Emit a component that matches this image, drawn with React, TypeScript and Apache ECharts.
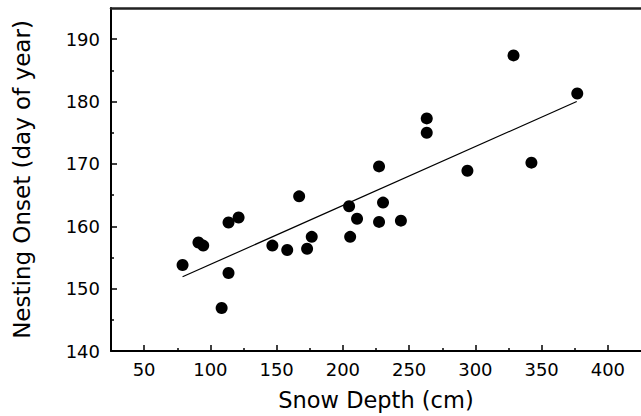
import React, { useEffect, useRef } from "react";
import * as echarts from "echarts";

const snowDepth = [79, 91, 94.6, 108.5, 113.7, 113.7, 121.3, 146.8, 158, 167, 173, 176.5, 204.7, 210.7, 205.5, 230.3, 227.3, 243.8, 227.3, 294, 263.3, 263.3, 328.8, 342.3, 376.9];
const nestingOnset = [153.8, 157.4, 156.9, 146.9, 152.5, 160.6, 161.4, 156.9, 156.2, 164.8, 156.4, 158.3, 163.2, 161.2, 158.3, 163.8, 160.7, 160.9, 169.6, 168.9, 177.3, 175.0, 187.4, 170.2, 181.3];
const trendX = [79, 376.5];
const trendY = [151.9, 180.0];
const xMajorTicks = [50, 100, 150, 200, 250, 300, 350, 400];
const xMinorTicks = [75, 125, 175, 225, 275, 325, 375];
const yMajorTicks = [140, 150, 160, 170, 180, 190];
const yMinorTicks = [145, 155, 165, 175, 185];

const FONT = "DejaVu Sans";

export default function App() {
  const ref = useRef<HTMLDivElement>(null);
  useEffect(() => {
    if (!ref.current) return;
    const chart = echarts.init(ref.current, null, { renderer: "svg" });
    const points = snowDepth.map((x, i) => [x, nestingOnset[i]]);
    const trend = trendX.map((x, i) => [x, trendY[i]]);
    chart.setOption({
      animation: false,
      backgroundColor: "#fff",
      grid: { left: 111, right: -2, top: 8, bottom: 64, containLabel: false },
      xAxis: [
        {
          type: "value",
          min: 25,
          max: 425,
          position: "bottom",
          name: "Snow Depth (cm)",
          nameLocation: "middle",
          nameGap: 37,
          nameTextStyle: { fontFamily: FONT, fontSize: 22.5, color: "#000" },
          axisLine: { show: true, onZero: false, lineStyle: { color: "#000", width: 2 } },
          axisTick: { show: true, inside: true, length: 6, customValues: xMajorTicks, lineStyle: { color: "#000", width: 1.5 } },
          axisLabel: { show: true, customValues: xMajorTicks, margin: 9, fontFamily: FONT, fontSize: 18, color: "#000" },
          splitLine: { show: false },
        },
        {
          type: "value",
          min: 25,
          max: 425,
          position: "bottom",
          axisLine: { show: false },
          axisTick: { show: true, inside: true, length: 3, customValues: xMinorTicks, lineStyle: { color: "#000", width: 1.5 } },
          axisLabel: { show: false },
          splitLine: { show: false },
        },
        {
          type: "value",
          min: 25,
          max: 425,
          position: "top",
          axisLine: { show: true, onZero: false, lineStyle: { color: "#222", width: 2.5 } },
          axisTick: { show: false },
          axisLabel: { show: false },
          splitLine: { show: false },
        },
      ],
      yAxis: [
        {
          type: "value",
          min: 140,
          max: 195,
          position: "left",
          name: "Nesting Onset (day of year)",
          nameLocation: "middle",
          nameGap: 78,
          nameTextStyle: { fontFamily: FONT, fontSize: 23, color: "#000" },
          axisLine: { show: true, onZero: false, lineStyle: { color: "#000", width: 2 } },
          axisTick: { show: true, inside: true, length: 6, customValues: yMajorTicks, lineStyle: { color: "#000", width: 1.5 } },
          axisLabel: { show: true, customValues: yMajorTicks, margin: 11, fontFamily: FONT, fontSize: 18, color: "#000" },
          splitLine: { show: false },
        },
        {
          type: "value",
          min: 140,
          max: 195,
          position: "left",
          axisLine: { show: false },
          axisTick: { show: true, inside: true, length: 3, customValues: yMinorTicks, lineStyle: { color: "#000", width: 1.5 } },
          axisLabel: { show: false },
          splitLine: { show: false },
        },
      ],
      series: [
        {
          type: "line",
          data: trend,
          xAxisIndex: 0,
          yAxisIndex: 0,
          symbol: "none",
          lineStyle: { color: "#000", width: 1.2 },
          z: 2,
        },
        {
          type: "scatter",
          data: points,
          xAxisIndex: 0,
          yAxisIndex: 0,
          symbol: "circle",
          symbolSize: 12,
          itemStyle: { color: "#000", opacity: 1 },
          z: 3,
        },
      ],
    });
    return () => chart.dispose();
  }, []);
  return <div ref={ref} style={{ width: 641, height: 416, position: "absolute", left: 0, top: 0 }} />;
}
